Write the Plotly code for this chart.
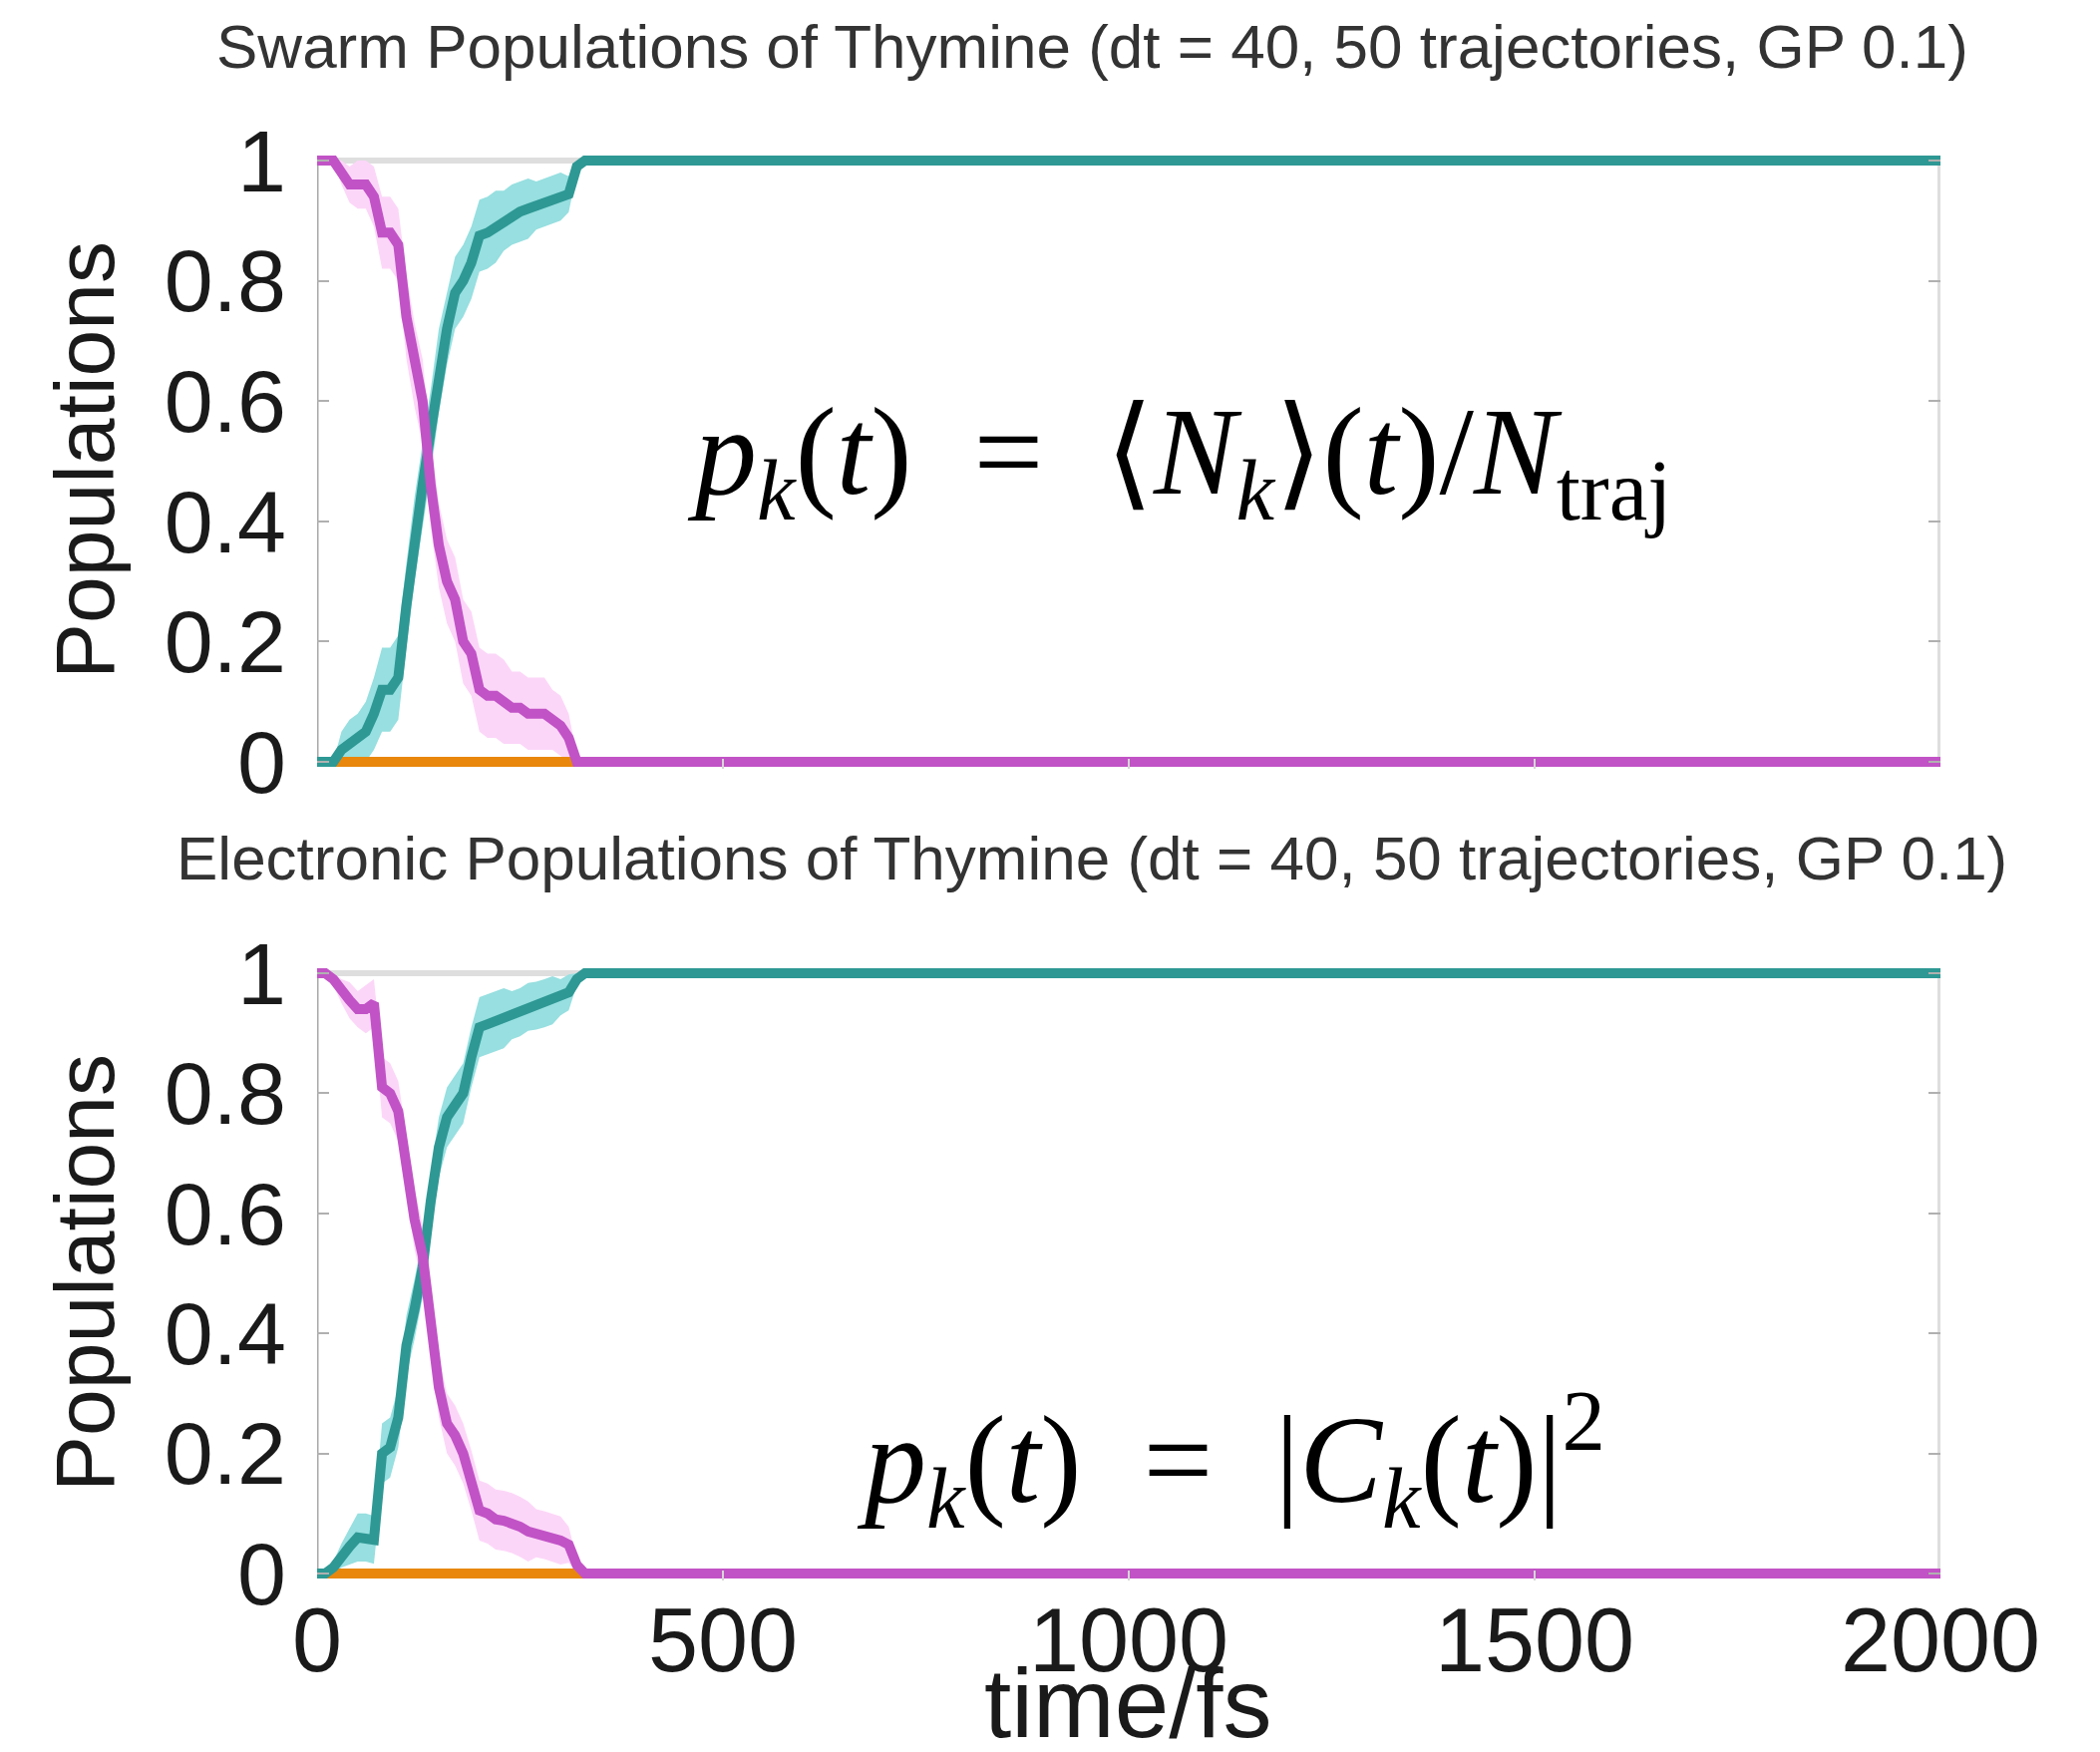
import numpy as np
import plotly.graph_objects as go

# ---------------- data ----------------
time_fs = [0, 10, 20, 30, 40, 50, 60, 70, 80, 90, 100, 110, 120, 130, 140, 150,
           160, 170, 180, 190, 200, 210, 220, 230, 240, 250, 260, 270, 280, 290,
           300, 310, 320, 330, 2000]

# swarm populations (top panel)
swarm_s2 = [1.0, 1.0, 1.0, 0.98, 0.96, 0.96, 0.96, 0.94, 0.88, 0.88, 0.86, 0.74,
            0.66, 0.60, 0.46, 0.36, 0.30, 0.27, 0.20, 0.18, 0.12, 0.11, 0.11, 0.10,
            0.09, 0.09, 0.08, 0.08, 0.08, 0.07, 0.06, 0.04, 0.0, 0.0, 0.0]
swarm_s2_err = [0, 0, 0, 0.02, 0.03, 0.04, 0.04, 0.05, 0.06, 0.06, 0.06, 0.07,
                0.07, 0.07, 0.07, 0.07, 0.07, 0.07, 0.07, 0.07, 0.07, 0.07, 0.07, 0.07,
                0.06, 0.06, 0.06, 0.06, 0.06, 0.05, 0.05, 0.04, 0.01, 0, 0]
swarm_s1 = [0.0, 0.0, 0.0, 0.02, 0.03, 0.04, 0.05, 0.08, 0.12, 0.12, 0.14, 0.26,
            0.37, 0.46, 0.55, 0.65, 0.72, 0.78, 0.80, 0.83, 0.875, 0.88, 0.89, 0.90,
            0.91, 0.915, 0.92, 0.925, 0.93, 0.935, 0.94, 0.944, 0.99, 1.0, 1.0]
swarm_s1_err = [0, 0, 0, 0.03, 0.04, 0.04, 0.05, 0.06, 0.07, 0.07, 0.07, 0.07,
                0.07, 0.07, 0.07, 0.07, 0.06, 0.06, 0.06, 0.06, 0.06, 0.06, 0.06, 0.05,
                0.05, 0.05, 0.05, 0.04, 0.04, 0.04, 0.04, 0.03, 0.01, 0, 0]
swarm_s0 = [0.0] * 35

# electronic populations (bottom panel)
elec_s2 = [1.0, 1.0, 0.99, 0.97, 0.955, 0.94, 0.94, 0.95, 0.81, 0.80, 0.77, 0.68,
           0.59, 0.53, 0.42, 0.31, 0.25, 0.23, 0.20, 0.155, 0.105, 0.10, 0.09, 0.088,
           0.084, 0.078, 0.07, 0.067, 0.064, 0.06, 0.055, 0.048, 0.014, 0.0, 0.0]
elec_s2_err = [0, 0, 0.01, 0.02, 0.03, 0.03, 0.04, 0.04, 0.05, 0.05, 0.05, 0.05,
               0.05, 0.05, 0.05, 0.05, 0.05, 0.05, 0.05, 0.05, 0.05, 0.05, 0.05, 0.05,
               0.05, 0.05, 0.05, 0.04, 0.04, 0.04, 0.04, 0.03, 0.01, 0, 0]
elec_s1 = [0.0, 0.0, 0.01, 0.03, 0.045, 0.06, 0.06, 0.056, 0.20, 0.21, 0.26, 0.38,
           0.44, 0.51, 0.62, 0.71, 0.76, 0.78, 0.80, 0.86, 0.91, 0.915, 0.92, 0.925,
           0.93, 0.935, 0.944, 0.946, 0.95, 0.955, 0.96, 0.968, 0.99, 1.0, 1.0]
elec_s1_err = [0, 0, 0.01, 0.02, 0.03, 0.04, 0.04, 0.04, 0.05, 0.05, 0.05, 0.05,
               0.05, 0.05, 0.05, 0.05, 0.05, 0.05, 0.05, 0.05, 0.05, 0.05, 0.05, 0.05,
               0.04, 0.04, 0.04, 0.04, 0.04, 0.04, 0.03, 0.03, 0.01, 0, 0]
elec_s0 = [0.0] * 35

y_ticks = [0, 0.2, 0.4, 0.6, 0.8, 1]
y_ticktext = ["0", "0.2", "0.4", "0.6", "0.8", "1"]
x_ticks = [0, 500, 1000, 1500, 2000]
x_ticktext = ["0", "500", "1000", "1500", "2000"]

titles = ["Swarm Populations of Thymine (dt = 40, 50 trajectories, GP 0.1)",
          "Electronic Populations of Thymine (dt = 40, 50 trajectories, GP 0.1)"]

# ---------------- styling ----------------
W, H = 2106, 1757
C_MAG, C_TEAL, C_ORANGE = "#c153c6", "#2e9894", "#e8870c"
C_PINK, C_CYAN = "#fcd6f8", "#97dfe0"
LW = 10
SANS = "Liberation Sans, Arial, sans-serif"

fig = go.Figure()


def band(x, y, e, color, xa, ya):
    y = np.asarray(y, float)
    e = np.asarray(e, float)
    up = np.clip(y + e, 0, 1)
    lo = np.clip(y - e, 0, 1)
    fig.add_trace(go.Scatter(x=x, y=up, mode="lines", line=dict(width=0, color=color),
                             xaxis=xa, yaxis=ya, showlegend=False, hoverinfo="skip"))
    fig.add_trace(go.Scatter(x=x, y=lo, mode="lines", line=dict(width=0, color=color),
                             fill="tonexty", fillcolor=color,
                             xaxis=xa, yaxis=ya, showlegend=False, hoverinfo="skip"))


def line(x, y, color, xa, ya):
    fig.add_trace(go.Scatter(x=x, y=y, mode="lines", line=dict(width=LW, color=color),
                             xaxis=xa, yaxis=ya, showlegend=False))


panels = [
    ("x", "y", swarm_s2, swarm_s2_err, swarm_s1, swarm_s1_err, swarm_s0),
    ("x2", "y2", elec_s2, elec_s2_err, elec_s1, elec_s1_err, elec_s0),
]
for xa, ya, s2, s2e, s1, s1e, s0 in panels:
    band(time_fs, s1, s1e, C_CYAN, xa, ya)
    band(time_fs, s2, s2e, C_PINK, xa, ya)
    line(time_fs, s0, C_ORANGE, xa, ya)
    line(time_fs, s1, C_TEAL, xa, ya)
    line(time_fs, s2, C_MAG, xa, ya)

# ---------------- axes ----------------
YPAD = 0.012
x_dom = [318 / W, 1946 / W]


def ydom(px_top, px_bot):
    span = px_bot - px_top
    return [1 - (px_bot + YPAD * span) / H, 1 - (px_top - YPAD * span) / H]


xcommon = dict(range=[0, 2000], domain=x_dom, showgrid=False, zeroline=False,
               showline=False, ticks="inside", ticklen=10, tickwidth=2,
               tickcolor="#d6d6d6", tickvals=x_ticks, ticktext=x_ticktext,
               tickfont=dict(family=SANS, size=90, color="#1a1a1a"),
               ticklabelstandoff=0, automargin=False)
ycommon = dict(range=[-YPAD, 1 + YPAD], showgrid=False, zeroline=False,
               showline=False, ticks="inside", ticklen=12, tickwidth=2,
               tickcolor="#b0b0b0", mirror="ticks", tickvals=y_ticks,
               ticktext=y_ticktext,
               tickfont=dict(family=SANS, size=88, color="#1a1a1a"),
               ticklabelstandoff=30, automargin=False)

fig.update_layout(
    width=W, height=H, margin=dict(l=0, r=0, t=0, b=0, pad=0, autoexpand=False),
    paper_bgcolor="white", plot_bgcolor="white", showlegend=False,
    xaxis=dict(xcommon, anchor="y", showticklabels=False),
    xaxis2=dict(xcommon, anchor="y2", showticklabels=True),
    yaxis=dict(ycommon, anchor="x", domain=ydom(161, 764)),
    yaxis2=dict(ycommon, anchor="x2", domain=ydom(976, 1578)),
)

# frame: darker left axis, light top/right border
for xa, ya in (("x", "y"), ("x2", "y2")):
    fig.add_shape(type="line", xref=xa, yref=ya, x0=0, x1=0, y0=0, y1=1,
                  line=dict(color="#a8a8a8", width=3), layer="below")
    fig.add_shape(type="line", xref=xa, yref=ya, x0=2000, x1=2000, y0=0, y1=1,
                  line=dict(color="#dedede", width=6), layer="below")
    fig.add_shape(type="line", xref=xa, yref=ya, x0=0, x1=2000, y0=1, y1=1,
                  line=dict(color="#dedede", width=6), layer="below")

# ---------------- text ----------------
ann = []
for title, ypx in zip(titles, (47, 860)):
    ann.append(dict(text=title, xref="paper", yref="paper", x=1095 / W, y=1 - ypx / H,
                    xanchor="center", yanchor="middle", showarrow=False,
                    font=dict(family=SANS, size=62, color="#333333")))
for ypx in (462, 1277):
    ann.append(dict(text="Populations", xref="paper", yref="paper", x=85 / W,
                    y=1 - ypx / H, xanchor="center", yanchor="middle",
                    textangle=-90, showarrow=False,
                    font=dict(family=SANS, size=84, color="#1a1a1a")))
ann.append(dict(text="time/fs", xref="paper", yref="paper", x=1131 / W, y=1 - 1708 / H,
                xanchor="center", yanchor="middle", showarrow=False,
                font=dict(family=SANS, size=98, color="#1a1a1a")))

SERIF = "Liberation Serif, DejaVu Serif, serif"
sp = "\u2002"
eq1 = ("<i>p</i><sub><i>k</i></sub>(<i>t</i>)" + sp + "=" + sp +
       "\u27e8<i>N</i><sub><i>k</i></sub>\u27e9(<i>t</i>)/<i>N</i><sub>traj</sub>")
eq2 = ("<i>p</i><sub><i>k</i></sub>(<i>t</i>)" + sp + "=" + sp +
       "|<i>C</i><sub><i>k</i></sub>(<i>t</i>)|<sup>2</sup>")
ann.append(dict(text=eq1, xref="paper", yref="paper", x=1182 / W, y=1 - 463 / H,
                xanchor="center", yanchor="middle", showarrow=False,
                font=dict(family=SERIF, size=124, color="black")))
ann.append(dict(text=eq2, xref="paper", yref="paper", x=1234 / W, y=1 - 1464 / H,
                xanchor="center", yanchor="middle", showarrow=False,
                font=dict(family=SERIF, size=124, color="black")))
fig.update_layout(annotations=ann)

fig.write_html("out.html")
